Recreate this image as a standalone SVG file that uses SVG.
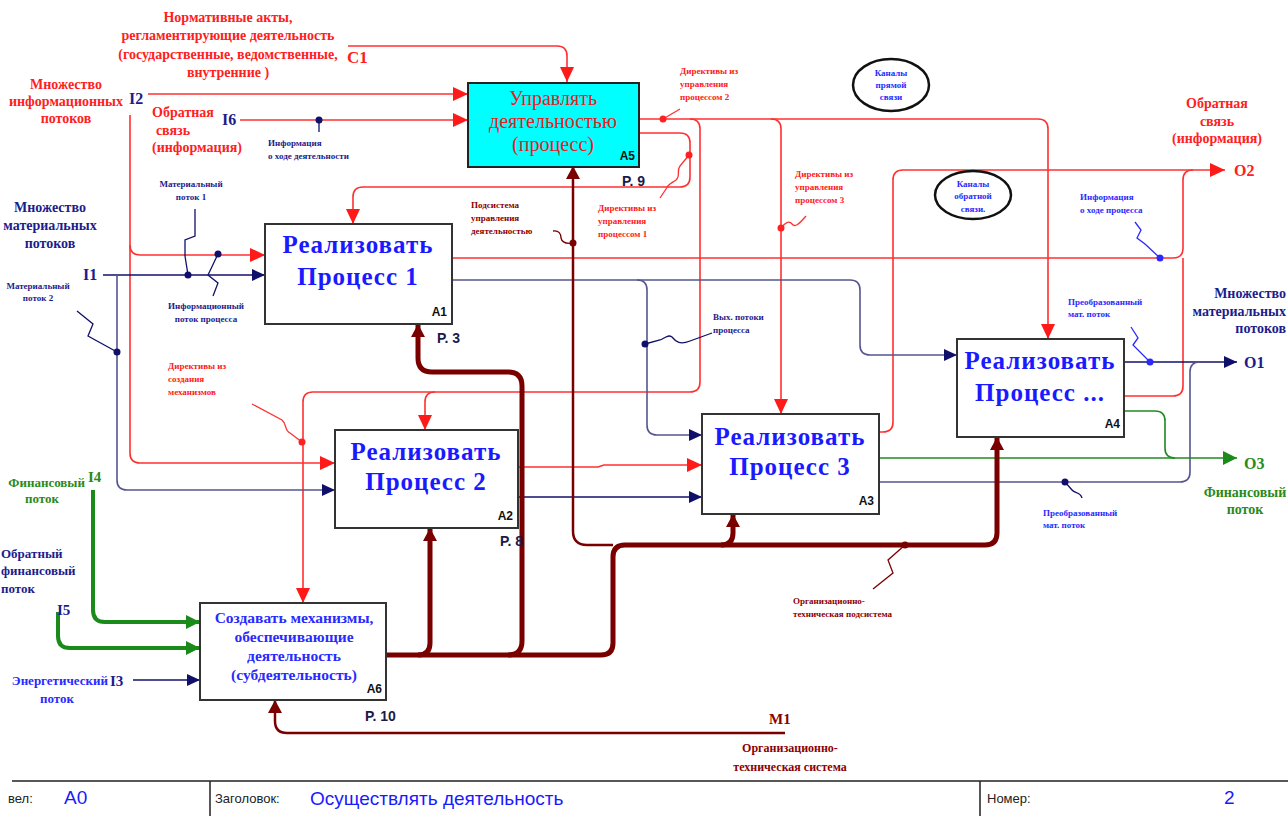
<svg xmlns="http://www.w3.org/2000/svg" width="1288" height="816" viewBox="0 0 1288 816">
<style>
.box{fill:#fff;stroke:#333;stroke-width:2}
.a5{fill:#00ffff;stroke:#222;stroke-width:2}
.title{font-family:"Liberation Serif",serif;font-weight:bold;font-size:25px;fill:#1a1aff;text-anchor:middle;letter-spacing:1px}
.t6{font-family:"Liberation Serif",serif;font-weight:bold;font-size:15.5px;fill:#2a2aff;text-anchor:middle}
.t5{font-family:"Liberation Serif",serif;font-size:20px;fill:#e52020;text-anchor:middle}
.num{font-family:"Liberation Sans",sans-serif;font-weight:bold;font-size:12px;fill:#111;text-anchor:end}
.pg{font-family:"Liberation Sans",sans-serif;font-weight:bold;font-size:14px;fill:#1a1a4a}
.r{fill:none;stroke:#ff3030;stroke-width:1.6}
.n{fill:none;stroke:#10106a;stroke-width:1.6}
.bg{fill:none;stroke:#55558f;stroke-width:1.6}
.g{fill:none;stroke:#1f8a1f;stroke-width:1.6}
.gt{fill:none;stroke:#1a8a1a;stroke-width:4}
.m{fill:none;stroke:#7a0000;stroke-width:5}
.mt{fill:none;stroke:#7a0000;stroke-width:2.5}
.ld{fill:none;stroke-width:1.3}
.s{font-family:"Liberation Serif",serif;font-weight:bold}
.sm{font-size:9px}
.md{font-size:14px}
.red{fill:#ff2020}
.nv{fill:#1c1c8c}
.bl{fill:#2a2aff}
.gr{fill:#2a8a1a}
.dr{fill:#8b0000}
.mid{text-anchor:middle}
.end{text-anchor:end}
.foot{font-family:"Liberation Sans",sans-serif;font-size:13px;fill:#222}
.footv{font-family:"Liberation Sans",sans-serif;font-size:19px;fill:#1a1aff}
</style>
<defs>
<marker id="ar" markerWidth="15" markerHeight="14" refX="15" refY="7" orient="auto" markerUnits="userSpaceOnUse"><path d="M0,0 L15,7 L0,14 z" fill="#ff1a1a"/></marker>
<marker id="an" markerWidth="13" markerHeight="12" refX="13" refY="6" orient="auto" markerUnits="userSpaceOnUse"><path d="M0,0 L13,6 L0,12 z" fill="#10106a"/></marker>
<marker id="ag" markerWidth="14" markerHeight="14" refX="14" refY="7" orient="auto" markerUnits="userSpaceOnUse"><path d="M0,0 L14,7 L0,14 z" fill="#1a8a1a"/></marker>
<marker id="am" markerWidth="13" markerHeight="14" refX="13" refY="7" orient="auto" markerUnits="userSpaceOnUse"><path d="M0,0 L13,7 L0,14 z" fill="#7a0000"/></marker>
</defs>
<rect width="1288" height="816" fill="#fff"/>

<!-- connectors -->
<g id="connectors">
  <!-- controls (red) -->
  <path class="r" d="M348,46 H557 Q567,46 567,56 V82" marker-end="url(#ar)"/>
  <path class="r" d="M148,94 H468" marker-end="url(#ar)"/>
  <path class="r" d="M240,120 H468" marker-end="url(#ar)"/>
  <path class="r" d="M130,115 V453 Q130,463 140,463 H335" marker-end="url(#ar)"/>
  <path class="r" d="M130,245 Q130,255 140,255 H265" marker-end="url(#ar)"/>
  <path class="r" d="M639,119 H1038 Q1048,119 1048,129 V339" marker-end="url(#ar)"/>
  <path class="r" d="M690,119 Q700,119 700,129 V382 Q700,392 690,392 H435 Q425,392 425,402 V430" marker-end="url(#ar)"/>
  <path class="r" d="M435,392 H313 Q303,392 303,402 V603" marker-end="url(#ar)"/>
  <path class="r" d="M771,119 Q781,119 781,129 V414" marker-end="url(#ar)"/>
  <path class="r" d="M639,133 H680 Q690,133 690,143 V177 Q690,187 680,187 H363 Q353,187 353,197 V224" marker-end="url(#ar)"/>
  <path class="r" d="M452,258 H1173 Q1183,258 1183,248 V180 Q1183,170 1193,170 H1225" marker-end="url(#ar)"/>
  <path class="r" d="M1124,396 H1173 Q1183,396 1183,386 V258"/>
  <path class="r" d="M880,432 H883 Q893,432 893,422 V180 Q893,170 903,170 H1193"/>
  <path class="r" d="M518,467 H598 L604,465 H702" marker-end="url(#ar)"/>
  <!-- material and information flows (navy) -->
  <path class="n" d="M103,275 H265" marker-end="url(#an)"/>
  <path class="bg" d="M117,275 V480 Q117,490 127,490 H335" marker-end="url(#an)"/>
  <path class="bg" d="M452,280 H850 Q860,280 860,290 V345 Q860,355 870,355 H957" marker-end="url(#an)"/>
  <path class="bg" d="M637,280 Q647,280 647,290 V425 Q647,435 657,435 H702" marker-end="url(#an)"/>
  <path class="n" d="M518,497 H702" marker-end="url(#an)"/>
  <path class="n" d="M1124,362 H1237" marker-end="url(#an)"/>
  <path class="bg" d="M880,482 H1180 Q1190,482 1190,472 V372 Q1190,362 1200,362"/>
  <path class="n" d="M133,680 H200" marker-end="url(#an)"/>
  <!-- financial flows (green) -->
  <path class="g" d="M880,458 H1237" marker-end="url(#ag)"/>
  <path class="g" d="M1124,411 H1155 Q1165,411 1165,421 V448 Q1165,458 1175,458"/>
  <path class="gt" d="M93,490 V610 Q93,622 105,622 H200" marker-end="url(#ag)"/>
  <path class="gt" d="M58,612 V636 Q58,648 70,648 H200" marker-end="url(#ag)"/>
  <!-- mechanisms (dark red) -->
  <path class="mt" d="M785,733 H287 Q275,733 275,721 V700" marker-end="url(#am)"/>
  <path class="m" d="M386,655 H601 Q613,655 613,643 V557 Q613,545 625,545 H985 Q997,545 997,533 V437" marker-end="url(#am)"/>
  <path class="m" d="M721,545 Q733,545 733,533 V514" marker-end="url(#am)"/>
  <path class="m" d="M418,655 Q430,655 430,643 V528" marker-end="url(#am)"/>
  <path class="m" d="M508,655 Q522,655 522,641 V386 Q522,372 508,372 H432 Q418,372 418,358 V324" marker-end="url(#am)"/>
  <path class="mt" d="M613,545 H587 Q573,545 573,531 V166" marker-end="url(#am)"/>
  <!-- leaders -->
  <path class="ld" stroke="#10106a" d="M319,120 V132"/>
  <path class="ld" stroke="#ff3030" d="M663,119 L680,109"/>
  <path class="ld" stroke="#ff3030" d="M689,155 L680,166 C676,171 681,176 676,180 C672,183 668,184 666,189 L660,198"/>
  <path class="ld" stroke="#7a0000" d="M553,231 C559,230 561,234 561,238 C562,243 566,244 573,243"/>
  <path class="ld" stroke="#ff3030" d="M781,228 C785,223 789,220 792,224 C795,228 799,224 806,216"/>
  <path class="ld" stroke="#2a2aff" d="M1135,222 L1141,230 L1137,238 L1145,244 L1160,258"/>
  <path class="ld" stroke="#10106a" d="M195,209 V236 L185,240 V256 L188,275"/>
  <path class="ld" stroke="#10106a" d="M218,254 L208,275 L218,283 L213,296"/>
  <path class="ld" stroke="#10106a" d="M77,311 L93,324 L88,336 L117,352"/>
  <path class="ld" stroke="#10106a" d="M645,344 L660,340 C665,338 668,334 672,337 C676,342 680,345 690,341 L712,333"/>
  <path class="ld" stroke="#ff3030" d="M252,404 L282,420 C287,424 284,430 290,433 L302,442"/>
  <path class="ld" stroke="#2a2aff" d="M1131,327 L1138,338 L1133,345 L1150,362"/>
  <path class="ld" stroke="#10106a" d="M1065,482 L1072,490 C1075,494 1080,491 1082,498"/>
  <path class="ld" stroke="#7a0000" d="M905,545 L888,560 L893,573 L873,589"/>
  <!-- junction dots -->
  <circle cx="319" cy="120" r="3.5" fill="#10106a"/>
  <circle cx="663" cy="119" r="3.5" fill="#ff2020"/>
  <circle cx="689" cy="155" r="3.5" fill="#ff2020"/>
  <circle cx="573" cy="243" r="3.5" fill="#7a0000"/>
  <circle cx="781" cy="228" r="3.5" fill="#ff2020"/>
  <circle cx="1160" cy="258" r="3.5" fill="#2a2aff"/>
  <circle cx="188" cy="275" r="3.5" fill="#10106a"/>
  <circle cx="218" cy="254" r="3.5" fill="#10106a"/>
  <circle cx="117" cy="352" r="3.5" fill="#10106a"/>
  <circle cx="645" cy="344" r="3.5" fill="#10106a"/>
  <circle cx="302" cy="442" r="3.5" fill="#ff2020"/>
  <circle cx="1150" cy="362" r="3.5" fill="#2a2aff"/>
  <circle cx="1065" cy="482" r="3.5" fill="#10106a"/>
  <circle cx="905" cy="545" r="3.5" fill="#7a0000"/>
</g>

<!-- activity boxes -->
<g id="node-a5">
  <rect class="a5" x="468" y="83" width="171" height="84"/>
  <text class="t5" x="553" y="105">Управлять</text>
  <text class="t5" x="553" y="128">деятельностью</text>
  <text class="t5" x="553" y="151">(процесс)</text>
  <text class="num" x="635" y="160">A5</text>
  <text class="pg" x="622" y="186">P. 9</text>
</g>
<g id="node-a1">
  <rect class="box" x="265" y="224" width="187" height="100"/>
  <text class="title" x="358" y="253">Реализовать</text>
  <text class="title" x="358" y="285">Процесс 1</text>
  <text class="num" x="447" y="316">A1</text>
  <text class="pg" x="437" y="343">P. 3</text>
</g>
<g id="node-a2">
  <rect class="box" x="335" y="430" width="183" height="98"/>
  <text class="title" x="426" y="460">Реализовать</text>
  <text class="title" x="426" y="490">Процесс 2</text>
  <text class="num" x="513" y="520">A2</text>
  <text class="pg" x="500" y="546">P. 8</text>
</g>
<g id="node-a3">
  <rect class="box" x="702" y="414" width="177" height="100"/>
  <text class="title" x="790" y="445">Реализовать</text>
  <text class="title" x="790" y="475">Процесс 3</text>
  <text class="num" x="874" y="505">A3</text>
</g>
<g id="node-a4">
  <rect class="box" x="957" y="339" width="167" height="98"/>
  <text class="title" x="1040" y="369">Реализовать</text>
  <text class="title" x="1040" y="401">Процесс ...</text>
  <text class="num" x="1120" y="428">A4</text>
</g>
<g id="node-a6">
  <rect class="box" x="200" y="603" width="186" height="97"/>
  <text class="t6" x="294" y="623">Создавать механизмы,</text>
  <text class="t6" x="294" y="642">обеспечивающие</text>
  <text class="t6" x="294" y="661">деятельность</text>
  <text class="t6" x="294" y="680">(субдеятельность)</text>
  <text class="num" x="382" y="693">A6</text>
  <text class="pg" x="365" y="721">P. 10</text>
</g>

<!-- notes -->
<g id="note-direct">
  <ellipse cx="891" cy="85" rx="38" ry="26" fill="none" stroke="#111" stroke-width="2.5"/>
  <text class="s sm bl mid" x="891" y="76">Каналы</text>
  <text class="s sm bl mid" x="891" y="88">прямой</text>
  <text class="s sm bl mid" x="891" y="100">связи</text>
</g>
<g id="note-feedback">
  <ellipse cx="973" cy="195" rx="38" ry="24" fill="none" stroke="#111" stroke-width="2.5"/>
  <text class="s sm bl mid" x="973" y="187">Каналы</text>
  <text class="s sm bl mid" x="973" y="199">обратной</text>
  <text class="s sm bl mid" x="973" y="212">связи.</text>
</g>

<!-- boundary and arrow labels -->
<g id="labels">
  <text class="s md red mid" x="228" y="22">Нормативные акты,</text>
  <text class="s md red mid" x="228" y="40">регламентирующие деятельность</text>
  <text class="s md red mid" x="228" y="59">(государственные, ведомственные,</text>
  <text class="s md red mid" x="228" y="77">внутренние )</text>
  <text class="s red" x="347" y="63" font-size="17">C1</text>

  <text class="s md red mid" x="66" y="89">Множество</text>
  <text class="s md red mid" x="66" y="106">информационных</text>
  <text class="s md red mid" x="66" y="123">потоков</text>
  <text class="s nv" x="129" y="104" font-size="16">I2</text>

  <text class="s md red mid" x="183" y="117">Обратная</text>
  <text class="s md red mid" x="173" y="135">связь</text>
  <text class="s md red mid" x="197" y="152">(информация)</text>
  <text class="s nv" x="222" y="125" font-size="16">I6</text>
  <text class="s sm nv" x="268" y="146">Информация</text>
  <text class="s sm nv" x="268" y="159">о ходе деятельности</text>

  <text class="s sm red" x="680" y="74">Директивы из</text>
  <text class="s sm red" x="680" y="87">управления</text>
  <text class="s sm red" x="680" y="100">процессом 2</text>
  <text class="s sm red" x="598" y="211">Директивы из</text>
  <text class="s sm red" x="598" y="224">управления</text>
  <text class="s sm red" x="598" y="237">процессом 1</text>
  <text class="s sm dr" x="471" y="208">Подсистема</text>
  <text class="s sm dr" x="471" y="221">управления</text>
  <text class="s sm dr" x="471" y="234">деятельностью</text>
  <text class="s sm red" x="795" y="177">Директивы из</text>
  <text class="s sm red" x="795" y="190">управления</text>
  <text class="s sm red" x="795" y="203">процессом 3</text>

  <text class="s md red mid" x="1217" y="108">Обратная</text>
  <text class="s md red mid" x="1217" y="126">связь</text>
  <text class="s md red mid" x="1217" y="143">(информация)</text>
  <text class="s red" x="1234" y="176" font-size="16">O2</text>
  <text class="s sm bl" x="1080" y="200">Информация</text>
  <text class="s sm bl" x="1080" y="213">о ходе процесса</text>

  <text class="s md nv mid" x="50" y="212">Множество</text>
  <text class="s md nv mid" x="50" y="230">материальных</text>
  <text class="s md nv mid" x="50" y="248">потоков</text>
  <text class="s nv" x="83" y="280" font-size="16">I1</text>
  <text class="s sm nv mid" x="191" y="187">Материальный</text>
  <text class="s sm nv mid" x="191" y="200">поток 1</text>
  <text class="s sm nv mid" x="206" y="309">Информационный</text>
  <text class="s sm nv mid" x="206" y="322">поток процесса</text>
  <text class="s sm nv mid" x="38" y="289">Материальный</text>
  <text class="s sm nv mid" x="38" y="301">поток 2</text>
  <text class="s sm nv" x="713" y="320">Вых. потоки</text>
  <text class="s sm nv" x="713" y="333">процесса</text>
  <text class="s sm red" x="168" y="369">Директивы из</text>
  <text class="s sm red" x="168" y="382">создания</text>
  <text class="s sm red" x="168" y="395">механизмов</text>

  <text class="s md nv end" x="1286" y="298">Множество</text>
  <text class="s md nv end" x="1286" y="316">материальных</text>
  <text class="s md nv end" x="1286" y="333">потоков</text>
  <text class="s nv" x="1244" y="368" font-size="16">O1</text>
  <text class="s sm bl" x="1068" y="305">Преобразованный</text>
  <text class="s sm bl" x="1068" y="317">мат. поток</text>
  <text class="s sm bl" x="1043" y="516">Преобразованный</text>
  <text class="s sm bl" x="1043" y="528">мат. поток</text>
  <text class="s gr" x="1244" y="469" font-size="16">O3</text>
  <text class="s md gr mid" x="1245" y="497">Финансовый</text>
  <text class="s md gr mid" x="1245" y="514">поток</text>

  <text class="s gr end" x="85" y="487" font-size="13">Финансовый</text>
  <text class="s gr mid" x="42" y="503" font-size="13">поток</text>
  <text class="s gr" x="88" y="482" font-size="15">I4</text>
  <text class="s nv" x="1" y="558" font-size="13">Обратный</text>
  <text class="s nv" x="1" y="575" font-size="13">финансовый</text>
  <text class="s nv" x="1" y="593" font-size="13">поток</text>
  <text class="s nv" x="57" y="615" font-size="15">I5</text>
  <text class="s bl end" x="108" y="685" font-size="13">Энергетический</text>
  <text class="s bl mid" x="57" y="703" font-size="13">поток</text>
  <text class="s nv" x="110" y="686" font-size="15">I3</text>

  <text class="s sm dr" x="793" y="604">Организационно-</text>
  <text class="s sm dr" x="793" y="617">техническая подсистема</text>
  <text class="s dr" x="769" y="724" font-size="15">M1</text>
  <text class="s dr mid" x="790" y="752" font-size="12">Организационно-</text>
  <text class="s dr mid" x="790" y="771" font-size="12">техническая система</text>
</g>

<!-- title block -->
<g id="frame">
  <path d="M12,781 H1288 M210,781 V816 M980,781 V816" fill="none" stroke="#222" stroke-width="1.5"/>
  <text class="foot" x="8" y="803">вел:</text>
  <text class="footv" x="64" y="804">A0</text>
  <text class="foot" x="215" y="803">Заголовок:</text>
  <text class="footv" x="310" y="805">Осуществлять деятельность</text>
  <text class="foot" x="987" y="803">Номер:</text>
  <text class="footv" x="1224" y="804">2</text>
</g>
</svg>
